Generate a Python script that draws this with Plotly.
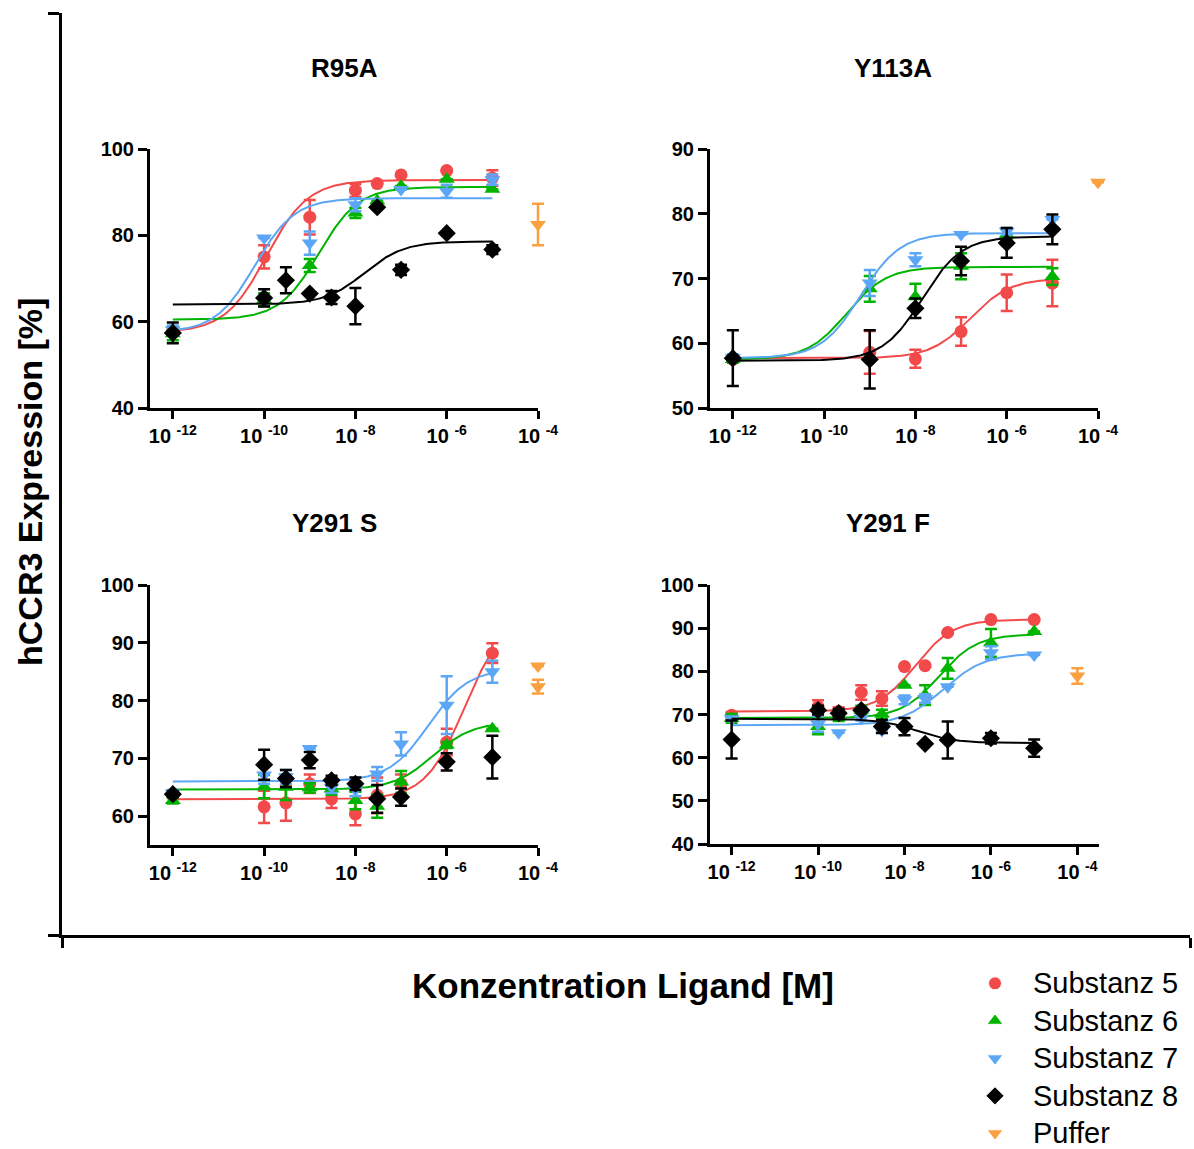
import numpy as np
import plotly.graph_objects as go

W, H = 1194, 1149

# ---------------- data ----------------
SERIES = ["Substanz 5", "Substanz 6", "Substanz 7", "Substanz 8"]
COLORS = ["#F24A4A", "#00B400", "#5CA6F6", "#000000"]
SYMBOLS = ["circle", "triangle-up", "triangle-down", "diamond"]
SIZES = [13, 14, 14, 14]
PUFFER_NAME = "Puffer"
PUFFER_COLOR = "#FBA03F"

PANEL_TITLES = ["R95A", "Y113A", "Y291 S", "Y291 F"]

CONC_FULL = [1e-12, 1e-10, 3e-10, 1e-9, 3e-9, 1e-8, 3e-8, 1e-7, 1e-6, 1e-5]
CONC_Y113A = [1e-12, 1e-9, 1e-8, 1e-7, 1e-6, 1e-5]
PUFFER_CONC = 1e-4

# R95A
r95a_y = [
    [57.8, 75.0, None, 84.2, None, 90.4, 92.0, 94.0, 95.0, 93.3],
    [57.2, 65.1, None, 73.0, None, 85.2, 88.0, 91.4, 93.0, 90.7],
    [58.1, 79.4, None, 78.2, None, 87.1, None, 90.6, 90.2, 92.9],
    [57.4, 65.5, 69.6, 66.5, 65.6, 63.6, 86.5, 72.0, 80.5, 76.7],
]
r95a_err = [
    [0, 2.7, 0, 4.0, 0, 1.5, 0, 0, 0, 1.8],
    [1.5, 1.5, 0, 1.5, 0, 1.2, 0, 0, 0, 0],
    [1.0, 0, 0, 2.7, 0, 1.5, 0, 0, 1.5, 1.2],
    [2.4, 2.0, 3.0, 0, 1.5, 4.2, 0, 1.2, 0, 1.0],
]
r95a_puffer = [82.5]
r95a_puffer_err = [4.8]
# fit parameters: bottom, top, logEC50, hill slope
r95a_fit = [
    [57.5, 92.8, -9.95, 0.95],
    [60.5, 91.2, -8.8, 1.0],
    [57.5, 88.6, -10.2, 1.0],
    [64.0, 78.6, -7.8, 1.0],
]

# Y113A
y113a_y = [
    [57.5, 58.6, 57.6, 61.8, 67.8, 69.3],
    [57.5, 68.4, 67.2, 71.9, 76.8, 70.3],
    [57.8, 69.3, 72.9, 76.8, 77.3, 79.1],
    [57.7, 57.5, 65.4, 72.7, 75.5, 77.6],
]
y113a_err = [
    [0, 3.3, 1.4, 2.2, 2.8, 3.6],
    [0.5, 2.0, 2.0, 2.0, 0.8, 1.3],
    [0.5, 2.0, 1.0, 0, 0.5, 0],
    [4.3, 4.5, 1.5, 2.2, 2.3, 2.3],
]
y113a_puffer = [84.85]
y113a_puffer_err = [0]
y113a_fit = [
    [57.7, 70.0, -6.8, 1.0],
    [57.5, 71.8, -9.5, 1.0],
    [57.7, 77.0, -9.2, 1.0],
    [57.3, 76.5, -7.85, 1.0],
]

# Y291 S
y291s_y = [
    [63.5, 61.6, 62.3, 65.6, 63.0, 60.4, 63.6, 65.6, 72.8, 88.2],
    [62.7, 65.1, 65.0, 64.9, 64.7, 62.7, 61.7, 65.9, 72.3, 75.1],
    [64.0, 67.1, 66.8, 71.7, 65.0, 64.5, 67.3, 72.5, 79.2, 85.0],
    [63.8, 68.9, 66.5, 69.7, 66.2, 65.6, 63.0, 63.3, 69.4, 70.2],
]
y291s_err = [
    [0, 2.8, 3.1, 1.6, 1.6, 2.0, 3.1, 1.6, 2.3, 1.7],
    [0.5, 2.0, 2.2, 0.8, 1.0, 1.5, 2.0, 1.9, 0.5, 0],
    [0.5, 1.5, 1.2, 0, 1.0, 1.0, 1.2, 2.0, 5.0, 1.9],
    [0.5, 2.6, 1.5, 1.4, 0.8, 1.1, 2.4, 1.5, 1.5, 3.7],
]
y291s_puffer = [86.0, 82.4]
y291s_puffer_err = [0, 1.2]
y291s_fit = [
    [62.9, 95.0, -5.6, 1.0],
    [64.6, 76.3, -6.3, 1.0],
    [66.0, 85.5, -6.4, 1.0],
    None,
]

# Y291 F
y291f_y = [
    [69.8, 71.8, 70.7, 75.1, 73.7, 81.1, 81.3, 89.0, 92.0, 92.0],
    [69.1, 67.2, 69.5, 71.0, 70.1, 76.8, 74.5, 80.7, 86.6, 89.2],
    [69.0, 67.8, 65.8, 69.1, 66.3, 73.4, 73.7, 76.4, 84.3, 83.8],
    [64.2, 71.0, 70.3, 71.0, 67.2, 67.2, 63.2, 64.1, 64.5, 62.2],
]
y291f_err = [
    [0.8, 1.5, 1.0, 1.7, 1.7, 0, 0, 0, 0, 0],
    [1.0, 1.8, 1.0, 1.0, 1.0, 0, 2.3, 2.4, 3.2, 0],
    [0.5, 1.8, 0, 0.5, 0, 1.0, 1.0, 0, 1.5, 0],
    [4.4, 1.0, 1.0, 0, 1.5, 2.0, 0, 4.3, 1.2, 2.0],
]
y291f_puffer = [78.9]
y291f_puffer_err = [1.8]
y291f_fit = [
    [70.7, 92.0, -7.75, 1.0],
    [69.2, 88.6, -7.2, 1.0],
    [67.5, 84.2, -7.1, 0.9],
    [69.0, 63.4, -7.7, 1.0],
]

X_TICKS = [1e-12, 1e-10, 1e-8, 1e-6, 1e-4]
X_TICK_TEXT = ["10 <sup>-12</sup>", "10 <sup>-10</sup>", "10 <sup>-8</sup>",
               "10 <sup>-6</sup>", "10 <sup>-4</sup>"]

# ---------------- layout geometry (pixels) ----------------
x_domains = [[150, 538], [710, 1098], [150, 538], [710, 1099]]
y_domains = [[149, 408], [149, 408], [585, 845], [585, 844]]
x_ranges = [[-12.5, -4], [-12.5, -4], [-12.5, -4], [-12.5, -3.5]]
y_ranges = [[40, 100], [50, 90], [55, 100], [40, 100]]
y_ticks = [[40, 60, 80, 100], [50, 60, 70, 80, 90], [60, 70, 80, 90, 100],
           [40, 50, 60, 70, 80, 90, 100]]


def fx(px):
    return px / W


def fy(px):
    return 1 - px / H


def four_pl(logx, bottom, top, logec50, hill):
    return bottom + (top - bottom) / (1 + 10 ** ((logec50 - logx) * hill))


panels = [
    dict(conc=CONC_FULL, y=r95a_y, err=r95a_err, pu=r95a_puffer, pu_err=r95a_puffer_err, fit=r95a_fit),
    dict(conc=CONC_Y113A, y=y113a_y, err=y113a_err, pu=y113a_puffer, pu_err=y113a_puffer_err, fit=y113a_fit),
    dict(conc=CONC_FULL, y=y291s_y, err=y291s_err, pu=y291s_puffer, pu_err=y291s_puffer_err, fit=y291s_fit),
    dict(conc=CONC_FULL, y=y291f_y, err=y291f_err, pu=y291f_puffer, pu_err=y291f_puffer_err, fit=y291f_fit),
]

fig = go.Figure()
curve_logx = np.linspace(-12, -5, 300)

for p_i, p in enumerate(panels):
    xa = "x" if p_i == 0 else f"x{p_i + 1}"
    ya = "y" if p_i == 0 else f"y{p_i + 1}"
    for s_i in range(4):
        xs, ys, es = [], [], []
        for c, v, e in zip(p["conc"], p["y"][s_i], p["err"][s_i]):
            if v is None:
                continue
            xs.append(c)
            ys.append(v)
            es.append(e)
        fit = p["fit"][s_i]
        if fit is not None:
            fig.add_trace(go.Scatter(
                x=10 ** curve_logx, y=four_pl(curve_logx, *fit), mode="lines",
                line=dict(color=COLORS[s_i], width=2), xaxis=xa, yaxis=ya,
                showlegend=False, hoverinfo="skip"))
        fig.add_trace(go.Scatter(
            x=xs, y=ys, mode="markers",
            marker=dict(symbol=SYMBOLS[s_i], color=COLORS[s_i], size=SIZES[s_i], opacity=1),
            error_y=dict(type="data", array=es, visible=True, color=COLORS[s_i],
                         thickness=2.5, width=6),
            xaxis=xa, yaxis=ya, showlegend=False, cliponaxis=False))
    # buffer control sits on the 10^-4 tick at the end of the axis; it gets its
    # own (hidden) axis pair reaching a little past the panel so it is not clipped
    fig.add_trace(go.Scatter(
        x=[PUFFER_CONC] * len(p["pu"]), y=p["pu"], mode="markers",
        marker=dict(symbol="triangle-down", color=PUFFER_COLOR, size=14, opacity=1),
        error_y=dict(type="data", array=p["pu_err"], visible=True, color=PUFFER_COLOR,
                     thickness=2.5, width=6),
        xaxis=f"x{p_i + 7}", yaxis=f"y{p_i + 7}", showlegend=False, cliponaxis=False))

TICK_FONT = dict(family="Liberation Sans, Arial, sans-serif", size=20, color="black", weight="bold")

axis_common = dict(showline=True, linewidth=3, linecolor="black", ticks="outside",
                   ticklen=8, tickwidth=3, tickcolor="black", showgrid=False,
                   zeroline=False, tickfont=TICK_FONT)

layout = dict(width=W, height=H, margin=dict(l=0, r=0, t=0, b=0, autoexpand=False),
              paper_bgcolor="white", plot_bgcolor="rgba(0,0,0,0)", showlegend=False)

EXTRA_PX = 30
for i in range(4):
    sx = "" if i == 0 else str(i + 1)
    layout[f"xaxis{sx}"] = dict(
        axis_common, type="log", domain=[fx(x_domains[i][0]), fx(x_domains[i][1])],
        range=x_ranges[i], tickvals=X_TICKS, ticktext=X_TICK_TEXT,
        anchor=f"y{sx}")
    layout[f"yaxis{sx}"] = dict(
        axis_common, domain=[fy(y_domains[i][1]), fy(y_domains[i][0])],
        range=y_ranges[i], tickvals=y_ticks[i], ticklen=9, anchor=f"x{sx}")
    # hidden axis pair for the buffer control, same scale, slightly wider
    px_per_decade = (x_domains[i][1] - x_domains[i][0]) / (x_ranges[i][1] - x_ranges[i][0])
    k = i + 7
    layout[f"xaxis{k}"] = dict(
        type="log", visible=False, anchor=f"y{k}",
        domain=[fx(x_domains[i][0]), fx(x_domains[i][1] + EXTRA_PX)],
        range=[x_ranges[i][0], x_ranges[i][1] + EXTRA_PX / px_per_decade])
    layout[f"yaxis{k}"] = dict(
        visible=False, anchor=f"x{k}",
        domain=[fy(y_domains[i][1]), fy(y_domains[i][0])], range=y_ranges[i])

# outer frame axes
frame = dict(showline=True, linewidth=3, linecolor="black", showgrid=False,
             zeroline=False, showticklabels=False, tickwidth=3, tickcolor="black",
             range=[0, 1], fixedrange=True)
layout["xaxis5"] = dict(frame, domain=[fx(62), fx(1190)], anchor="y5",
                        ticks="outside", tickvals=[0, 1], ticklen=10)
layout["yaxis5"] = dict(frame, domain=[fy(935), fy(13)], anchor="x5",
                        ticks="outside", tickvals=[0, 1], ticklen=11)
layout["xaxis6"] = dict(frame, domain=[fx(62), fx(1190)], anchor="y6",
                        showline=False, ticks="inside", tickvals=[1], ticklen=10)
layout["yaxis6"] = dict(frame, domain=[fy(935), fy(13)], anchor="x6",
                        showline=False, ticks="inside", tickvals=[1], ticklen=11)
for k in (5, 6):
    fig.add_trace(go.Scatter(x=[None], y=[None], xaxis=f"x{k}", yaxis=f"y{k}",
                             showlegend=False, hoverinfo="skip"))

# legend: one row per entry on a hidden axis pair (37.5 px per row)
LEGEND_NAMES = SERIES + [PUFFER_NAME]
LEGEND_COLORS = COLORS + [PUFFER_COLOR]
LEGEND_SYMBOLS = SYMBOLS + ["triangle-down"]
LEGEND_SIZES = SIZES + [14]
rows = list(range(len(LEGEND_NAMES)))
ROW_PX = 37.5
LEG_TOP, LEG_FIRST = 964, 983.3
layout["xaxis11"] = dict(visible=False, domain=[fx(985), fx(1005)], range=[-1, 1],
                         anchor="y11", fixedrange=True)
layout["yaxis11"] = dict(visible=False, domain=[0, fy(LEG_TOP)],
                         range=[(H - LEG_FIRST) / ROW_PX, -(LEG_FIRST - LEG_TOP) / ROW_PX],
                         anchor="x11", fixedrange=True)
fig.add_trace(go.Scatter(
    x=[0] * len(rows), y=rows, mode="markers",
    marker=dict(symbol=LEGEND_SYMBOLS, color=LEGEND_COLORS, size=LEGEND_SIZES, opacity=1),
    xaxis="x11", yaxis="y11", showlegend=False, hoverinfo="skip", cliponaxis=False))

fig.update_layout(**layout)

for r, name in zip(rows, LEGEND_NAMES):
    fig.add_annotation(text=name, x=fx(1031), xref="paper", y=r, yref="y11",
                       showarrow=False, xanchor="left", yanchor="middle",
                       font=dict(family="Liberation Sans, Arial, sans-serif", size=29,
                                 color="black"))

TITLE_FONT = dict(family="Liberation Sans, Arial, sans-serif", size=26, color="black",
                  weight="bold")
title_pos = [(345, 68), (893, 68), (335, 523), (888, 523)]
for t, (cx, cy) in zip(PANEL_TITLES, title_pos):
    fig.add_annotation(text=t, x=fx(cx), y=fy(cy), xref="paper", yref="paper",
                       showarrow=False, xanchor="center", yanchor="middle", font=TITLE_FONT)

fig.add_annotation(text="Konzentration Ligand [M]", x=fx(623), y=fy(985),
                   xref="paper", yref="paper", showarrow=False,
                   xanchor="center", yanchor="middle",
                   font=dict(family="Liberation Sans, Arial, sans-serif", size=35,
                             color="black", weight="bold"))
fig.add_annotation(text="hCCR3 Expression [%]", x=fx(30), y=fy(482),
                   xref="paper", yref="paper", showarrow=False, textangle=-90,
                   xanchor="center", yanchor="middle",
                   font=dict(family="Liberation Sans, Arial, sans-serif", size=34,
                             color="black", weight="bold"))

fig.write_html("out.html")
